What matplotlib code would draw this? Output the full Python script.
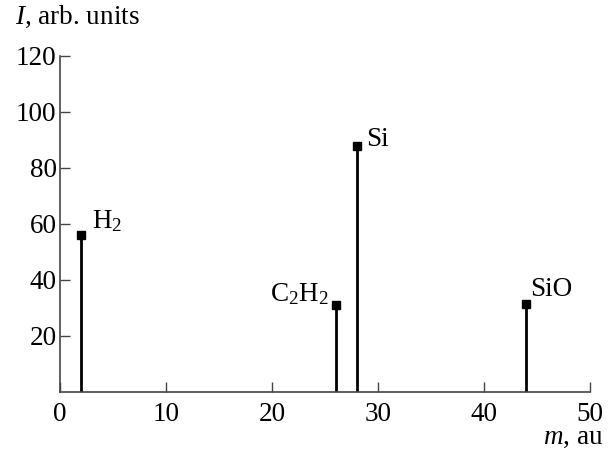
import matplotlib
matplotlib.use("Agg")
import matplotlib.pyplot as plt

species = ["H$_2$", "C$_2$H$_2$", "Si", "SiO"]
mass = [2, 26, 28, 44]
intensity = [56, 31, 88, 31.5]
x_ticks = [0, 10, 20, 30, 40, 50]
y_ticks = [20, 40, 60, 80, 100, 120]

plt.rcParams['font.family'] = ['Liberation Serif', 'DejaVu Serif']
plt.rcParams['mathtext.fontset'] = 'custom'
plt.rcParams['mathtext.rm'] = 'Liberation Serif'
plt.rcParams['mathtext.it'] = 'Liberation Serif:italic'
plt.rcParams['font.size'] = 19.5

fig = plt.figure(figsize=(6.12, 4.51), dpi=100)
ax = fig.add_axes([0.098, 0.131, 0.866, 0.745])

for m, v in zip(mass, intensity):
    ax.plot([m, m], [0, v], color='black', lw=2.0, solid_capstyle='butt')
    ax.plot([m], [v], marker='s', color='black', ms=6)

offsets = {
    "H$_2$": (8, 10, 'left'),
    "C$_2$H$_2$": (-5, 8, 'right'),
    "Si": (7, 4, 'left'),
    "SiO": (3, 10, 'left'),
}
for name, m, v in zip(species, mass, intensity):
    dx, dy, ha = offsets[name]
    ax.annotate(name, (m, v), xytext=(dx, dy), textcoords='offset points',
                ha=ha, va='center', fontsize=19.5)

ax.set_xlim(0, 50)
ax.set_ylim(0, 120)
ax.set_xticks(x_ticks)
ax.set_yticks(y_ticks)
ax.tick_params(direction='in', length=7, width=1.0, color='#444444')
ax.tick_params(axis='y', pad=2.5)
ax.tick_params(axis='x', pad=7)
for s in ['top', 'right']:
    ax.spines[s].set_visible(False)
for s in ['left', 'bottom']:
    ax.spines[s].set_color('#444444')
    ax.spines[s].set_linewidth(1.2)

fig.text(0.025, 0.962, "$I$, arb. units", ha='left', va='center', fontsize=19.5)
fig.text(0.985, 0.03, "$m$, au", ha='right', va='center', fontsize=19.5)

fig.savefig("out.png", dpi=100)
